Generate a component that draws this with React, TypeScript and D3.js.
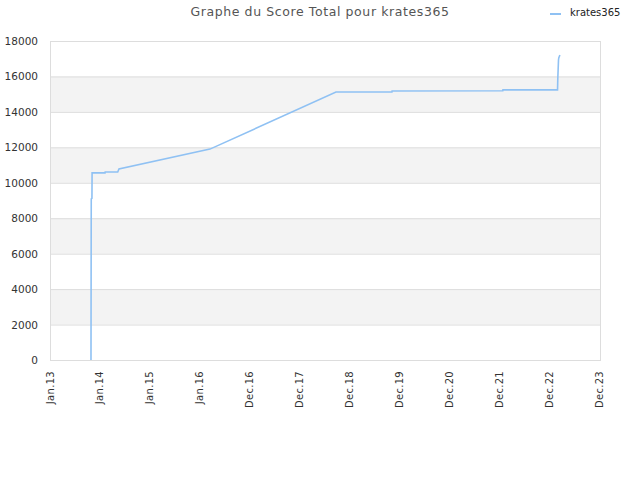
import React from "react";
import * as d3 from "d3";

const title = "Graphe du Score Total pour krates365";
const seriesName = "krates365";

// score history
const dates = [
    "2013-10-27", "2013-10-28", "2013-10-29", "2013-11-03", "2013-11-04",
    "2014-02-06", "2014-02-07", "2014-05-09", "2014-05-18", "2016-03-08",
    "2018-09-08", "2019-10-19", "2019-10-20", "2021-12-31", "2022-01-01",
    "2023-02-01", "2023-02-03", "2023-02-08", "2023-02-10", "2023-02-18",
];
const scores = [
    0, 4700, 9090, 9120, 10560,
    10560, 10610, 10610, 10780, 11900,
    15120, 15130, 15180, 15190, 15240,
    15240, 15910, 16930, 17050, 17210,
];

const yTicks = [0, 2000, 4000, 6000, 8000, 10000, 12000, 14000, 16000, 18000];
const xTickDates = [
    "2013-01-10", "2014-01-07", "2015-01-04", "2016-01-01", "2016-12-28",
    "2017-12-25", "2018-12-22", "2019-12-19", "2020-12-15", "2021-12-12",
    "2022-12-09", "2023-12-06",
];

const W = 640;
const H = 480;
const left = 51;
const right = 600;
const top = 41;
const bottom = 360;
const font = "DejaVu Sans, sans-serif";
const lineColor = "#8fc1f3";

const parse = d3.utcParse("%Y-%m-%d");
const fmt = d3.utcFormat("%b.%y");

export default function App() {
    const ticks = xTickDates.map(d => parse(d) as Date);
    const x = d3.scaleUtc()
        .domain([ticks[0], ticks[ticks.length - 1]])
        .range([left, right]);
    const y = d3.scaleLinear().domain([0, 18000]).range([bottom, top]);

    const points = dates.map((d, i) => ({ t: parse(d) as Date, v: scores[i] }));
    const line = d3.line<{ t: Date; v: number }>()
        .x(d => x(d.t))
        .y(d => y(d.v));

    return (
        <div style={{ position: "absolute", left: 0, top: 0 }}>
            <svg width={W} height={H} style={{ display: "block", background: "#fff" }} fontFamily={font}>
                {/* alternating bands */}
                {yTicks.slice(0, -1).map((v, i) =>
                    i % 2 === 1 ? (
                        <rect key={"b" + v} x={left} width={right - left}
                              y={y(yTicks[i + 1])} height={y(v) - y(yTicks[i + 1])} fill="#f3f3f3" />
                    ) : null
                )}
                {yTicks.map(v => (
                    <line key={"g" + v} x1={left} x2={right} y1={y(v) + 0.5} y2={y(v) + 0.5}
                          stroke="#dddddd" />
                ))}
                <rect x={left - 0.5} y={top + 0.5} width={right - left + 1} height={bottom - top}
                      fill="none" stroke="#dddddd" />

                {yTicks.map(v => (
                    <text key={"yl" + v} x={38} y={y(v) + 4} textAnchor="end" fontSize={10.5} fill="#333">
                        {v}
                    </text>
                ))}
                {ticks.map((t, i) => (
                    <text key={"xl" + i} transform={`translate(${x(t) + 2.5},371) rotate(-90)`}
                          textAnchor="end" fontSize={10} letterSpacing={0.3} fill="#333">
                        {fmt(t)}
                    </text>
                ))}

                <path d={line(points) ?? ""} fill="none" stroke={lineColor} strokeWidth={1.6} />

                <text x={320} y={16} textAnchor="middle" fontSize={12.5} letterSpacing={0.6} fill="#555">
                    {title}
                </text>

                <line x1={550} x2={561} y1={14} y2={14} stroke={lineColor} strokeWidth={2} />
                <text x={570} y={16} fontSize={10} fill="#222">{seriesName}</text>
            </svg>
        </div>
    );
}
